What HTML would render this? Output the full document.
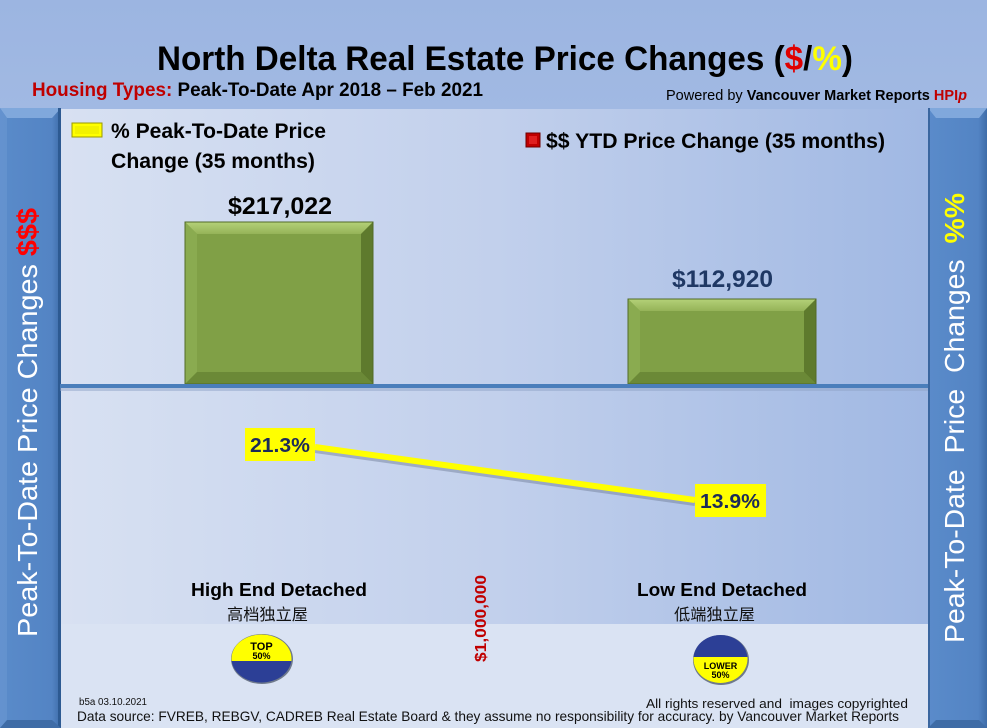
<!DOCTYPE html>
<html>
<head>
<meta charset="utf-8">
<style>
html,body{margin:0;padding:0;background:#9db6e1;}
svg{display:block;}
</style>
</head>
<body>
<svg width="987" height="728" viewBox="0 0 987 728" xmlns="http://www.w3.org/2000/svg">
<defs>
  <linearGradient id="chartbg" x1="0" y1="0" x2="1" y2="0">
    <stop offset="0" stop-color="#d8e1f2"/>
    <stop offset="0.5" stop-color="#c2d0ec"/>
    <stop offset="1" stop-color="#a0b8e3"/>
  </linearGradient>
  <linearGradient id="hdr" x1="0" y1="0" x2="0" y2="1">
    <stop offset="0" stop-color="#9cb5e1"/>
    <stop offset="1" stop-color="#a1b9e3"/>
  </linearGradient>
  <linearGradient id="panel" x1="0" y1="0" x2="1" y2="0">
    <stop offset="0" stop-color="#5a8bca"/>
    <stop offset="0.85" stop-color="#5384c4"/>
    <stop offset="1" stop-color="#3e6ca8"/>
  </linearGradient>
  <linearGradient id="bartop" x1="0" y1="0" x2="0" y2="1">
    <stop offset="0" stop-color="#b4d178"/>
    <stop offset="1" stop-color="#95b358"/>
  </linearGradient>
  <clipPath id="topHalf1"><rect x="220" y="620" width="90" height="41"/></clipPath>
  <clipPath id="botHalf2"><rect x="680" y="657" width="90" height="40"/></clipPath>
</defs>

<!-- header background -->
<rect x="0" y="0" width="987" height="109" fill="url(#hdr)"/>
<!-- chart area -->
<rect x="60" y="109" width="868" height="515" fill="url(#chartbg)"/>
<!-- lower band -->
<rect x="60" y="624" width="868" height="104" fill="#dae3f3"/>

<!-- Left panel -->
<rect x="0" y="108" width="61" height="620" fill="url(#panel)"/>
<polygon points="0,108 61,108 52,118 7,118" fill="#80a8dc"/>
<polygon points="0,108 7,118 7,720 0,728" fill="#6b98d2" opacity="0.6"/>
<rect x="58" y="108" width="3" height="620" fill="#2d5a92"/>
<polygon points="0,728 61,728 52,720 7,720" fill="#3f6ca6"/>

<!-- Right panel -->
<rect x="928" y="108" width="59" height="620" fill="url(#panel)"/>
<polygon points="928,108 987,108 979,118 936,118" fill="#80a8dc"/>
<rect x="928" y="108" width="2" height="620" fill="#3a669f"/>
<polygon points="928,728 987,728 979,720 936,720" fill="#3f6ca6"/>

<!-- Title -->
<text x="157" y="70" font-family="Liberation Sans, sans-serif" font-weight="bold" font-size="34" textLength="696" lengthAdjust="spacingAndGlyphs" fill="#000">North Delta Real Estate Price Changes (<tspan fill="#e00000">$</tspan>/<tspan fill="#ffff00">%</tspan>)</text>

<!-- Subtitle -->
<text x="32" y="96" font-family="Liberation Sans, sans-serif" font-weight="bold" font-size="19" textLength="451" lengthAdjust="spacingAndGlyphs" fill="#000"><tspan fill="#c00000">Housing Types:</tspan> Peak-To-Date Apr 2018 – Feb 2021</text>

<!-- Powered by -->
<text x="666" y="100" font-family="Liberation Sans, sans-serif" font-size="15" textLength="301" lengthAdjust="spacingAndGlyphs" fill="#000">Powered by <tspan font-weight="bold">Vancouver Market Reports </tspan><tspan font-weight="bold" fill="#c00000">HPI</tspan><tspan font-weight="bold" font-style="italic" fill="#c00000">p</tspan></text>

<!-- Legend 1 -->
<rect x="72" y="123" width="30" height="14" fill="#ffff00" stroke="#9a9a00" stroke-width="1"/>
<rect x="75" y="126" width="24" height="8" fill="#f2f200"/>
<text x="111" y="138" font-family="Liberation Sans, sans-serif" font-weight="bold" font-size="21" textLength="215" lengthAdjust="spacingAndGlyphs" fill="#000">% Peak-To-Date Price</text>
<text x="111" y="168" font-family="Liberation Sans, sans-serif" font-weight="bold" font-size="21" textLength="204" lengthAdjust="spacingAndGlyphs" fill="#000">Change (35 months)</text>

<!-- Legend 2 -->
<rect x="526" y="133" width="14" height="14" fill="#c00000" stroke="#700000" stroke-width="1"/>
<rect x="529" y="136" width="8" height="8" fill="#e02020"/>
<text x="546" y="148" font-family="Liberation Sans, sans-serif" font-weight="bold" font-size="21" textLength="339" lengthAdjust="spacingAndGlyphs" fill="#000">$$ YTD Price Change (35 months)</text>

<!-- Bar 1 -->
<rect x="185" y="222" width="188" height="162" fill="#80a046"/>
<polygon points="185,222 373,222 361,234 197,234" fill="url(#bartop)"/>
<polygon points="185,222 197,234 197,372 185,384" fill="#8aab50"/>
<polygon points="373,222 373,384 361,372 361,234" fill="#5e7a2d"/>
<polygon points="185,384 373,384 361,372 197,372" fill="#6b8937"/>
<rect x="185" y="222" width="188" height="162" fill="none" stroke="#526b28" stroke-width="1"/>
<text x="228" y="214" font-family="Liberation Sans, sans-serif" font-weight="bold" font-size="24" textLength="104" lengthAdjust="spacingAndGlyphs" fill="#000">$217,022</text>

<!-- Bar 2 -->
<rect x="628" y="299" width="188" height="85" fill="#80a046"/>
<polygon points="628,299 816,299 804,311 640,311" fill="url(#bartop)"/>
<polygon points="628,299 640,311 640,372 628,384" fill="#8aab50"/>
<polygon points="816,299 816,384 804,372 804,311" fill="#5e7a2d"/>
<polygon points="628,384 816,384 804,372 640,372" fill="#6b8937"/>
<rect x="628" y="299" width="188" height="85" fill="none" stroke="#526b28" stroke-width="1"/>
<text x="672" y="287" font-family="Liberation Sans, sans-serif" font-weight="bold" font-size="24" textLength="101" lengthAdjust="spacingAndGlyphs" fill="#1f3864">$112,920</text>

<!-- Baseline -->
<rect x="60" y="388" width="868" height="3" fill="#8fa4c8" opacity="0.5"/>
<rect x="60" y="384" width="868" height="4" fill="#4a7ebb"/>

<!-- Line series -->
<line x1="315" y1="450" x2="695" y2="503" stroke="#6d7a96" stroke-width="6" opacity="0.45"/>
<line x1="315" y1="447" x2="695" y2="500" stroke="#ffff00" stroke-width="6"/>
<rect x="245" y="428" width="70" height="33" fill="#ffff00"/>
<text x="280" y="452" text-anchor="middle" font-family="Liberation Sans, sans-serif" font-weight="bold" font-size="20" textLength="60" lengthAdjust="spacingAndGlyphs" fill="#1c2a5a">21.3%</text>
<rect x="695" y="484" width="71" height="33" fill="#ffff00"/>
<text x="730" y="508" text-anchor="middle" font-family="Liberation Sans, sans-serif" font-weight="bold" font-size="20" textLength="60" lengthAdjust="spacingAndGlyphs" fill="#1c2a5a">13.9%</text>

<!-- Category labels -->
<text x="191" y="596" font-family="Liberation Sans, sans-serif" font-weight="bold" font-size="18" textLength="176" lengthAdjust="spacingAndGlyphs" fill="#000">High End Detached</text>
<text x="227" y="620" font-family="Liberation Sans, 'Noto Sans CJK SC', sans-serif" font-size="16" textLength="81" lengthAdjust="spacingAndGlyphs" fill="#111">高档独立屋</text>
<text x="637" y="596" font-family="Liberation Sans, sans-serif" font-weight="bold" font-size="18" textLength="170" lengthAdjust="spacingAndGlyphs" fill="#000">Low End Detached</text>
<text x="674" y="620" font-family="Liberation Sans, 'Noto Sans CJK SC', sans-serif" font-size="16" textLength="81" lengthAdjust="spacingAndGlyphs" fill="#111">低端独立屋</text>

<!-- $1,000,000 rotated -->
<text transform="translate(486,662) rotate(-90)" x="0" y="0" font-family="Liberation Sans, sans-serif" font-weight="bold" font-size="16" textLength="87" lengthAdjust="spacingAndGlyphs" fill="#c00000">$1,000,000</text>

<!-- Badge TOP 50% -->
<ellipse cx="262" cy="659" rx="31" ry="25" fill="#6f7a8c"/>
<ellipse cx="261.5" cy="658.5" rx="30" ry="24" fill="#2c3f96"/>
<ellipse cx="261.5" cy="658.5" rx="30" ry="24" fill="#ffff00" clip-path="url(#topHalf1)"/>
<text x="261.5" y="650" text-anchor="middle" font-family="Liberation Sans, sans-serif" font-weight="bold" font-size="11" fill="#000">TOP</text>
<text x="261.5" y="659" text-anchor="middle" font-family="Liberation Sans, sans-serif" font-weight="bold" font-size="9" fill="#000">50%</text>

<!-- Badge LOWER 50% -->
<ellipse cx="721" cy="660" rx="28" ry="25" fill="#6f7a8c"/>
<ellipse cx="720.5" cy="659" rx="27" ry="24" fill="#2c3f96"/>
<ellipse cx="720.5" cy="659" rx="27" ry="24" fill="#ffff00" clip-path="url(#botHalf2)"/>
<text x="720.5" y="669" text-anchor="middle" font-family="Liberation Sans, sans-serif" font-weight="bold" font-size="9" fill="#000">LOWER</text>
<text x="720.5" y="678" text-anchor="middle" font-family="Liberation Sans, sans-serif" font-weight="bold" font-size="9" fill="#000">50%</text>

<!-- Footer -->
<text x="79" y="705" font-family="Liberation Sans, sans-serif" font-size="10" textLength="68" lengthAdjust="spacingAndGlyphs" fill="#111">b5a 03.10.2021</text>
<text x="646" y="708" font-family="Liberation Sans, sans-serif" font-size="13" textLength="262" lengthAdjust="spacingAndGlyphs" fill="#111">All rights reserved and&#160; images copyrighted</text>
<text x="77" y="721" font-family="Liberation Sans, sans-serif" font-size="14" textLength="822" lengthAdjust="spacingAndGlyphs" fill="#111">Data source: FVREB, REBGV, CADREB Real Estate Board &amp; they assume no responsibility for accuracy. by Vancouver Market Reports</text>

<!-- Left panel text -->
<text transform="translate(37,637) rotate(-90)" x="0" y="0" font-family="Liberation Sans, sans-serif" font-size="28" textLength="429" lengthAdjust="spacingAndGlyphs" fill="#ffffff">Peak-To-Date Price Changes <tspan font-weight="bold" fill="#ff0000">$$$</tspan></text>

<!-- Right panel text -->
<text transform="translate(964,643) rotate(-90)" x="0" y="0" font-family="Liberation Sans, sans-serif" font-size="28" textLength="450" lengthAdjust="spacingAndGlyphs" fill="#ffffff">Peak-To-Date&#160; Price&#160; Changes&#160; <tspan font-weight="bold" fill="#ffff00">%%</tspan></text>
</svg>
</body>
</html>
